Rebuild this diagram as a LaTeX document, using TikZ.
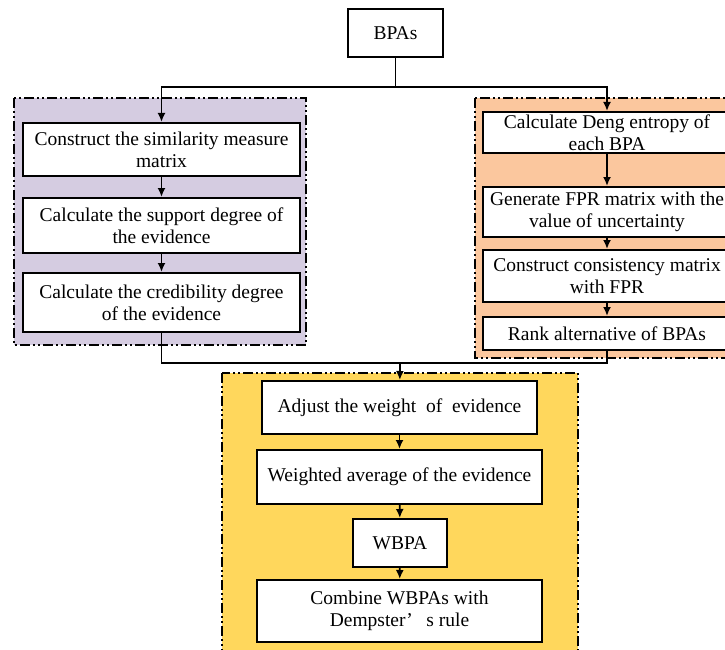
\documentclass[tikz,border=0pt]{standalone}
\usepackage{fontspec}
\setmainfont{Liberation Serif}
\usetikzlibrary{arrows.meta}

\definecolor{grpPurple}{HTML}{D5CCE1}
\definecolor{grpOrange}{HTML}{FBC79E}
\definecolor{grpYellow}{HTML}{FFD75C}

\tikzset{
  stepbox/.style={draw, rectangle, fill=white, line width=2pt, align=center, inner sep=2pt},
  groupbox/.style={draw, line width=2pt, dash pattern=on 10pt off 3pt on 2pt off 3pt on 2pt off 3pt},
  flow/.style={line width=1.8pt, -{Latex[length=9pt,width=8pt]}},
  link/.style={line width=1.8pt}
}

\begin{document}
\begin{tikzpicture}[x=1pt, y=-1pt, font=\fontsize{19.5}{22}\selectfont]
    \useasboundingbox (0,0) rectangle (725,650);
    \clip (0,0) rectangle (725,650);

    % Gruppen im Hintergrund
    \draw[groupbox, fill=grpPurple] (14,98) rectangle (306,345);
    \draw[groupbox, fill=grpOrange] (475,98) rectangle (740,358);
    \draw[groupbox, fill=grpYellow] (222,373) rectangle (578,665);

    % Eingang
    \node[stepbox, minimum width=95pt, minimum height=48pt] (bpa) at (395.5,33) {BPAs};

    % Linker Zweig
    \node[stepbox, minimum width=277pt, minimum height=53pt] (l1) at (161.5,149.5) {Construct the similarity measure\\matrix};
    \node[stepbox, minimum width=277pt, minimum height=55pt] (l2) at (161.5,225.5) {Calculate the support degree of\\the evidence};
    \node[stepbox, minimum width=277pt, minimum height=59pt] (l3) at (161.5,302.5) {Calculate the credibility degree\\of the evidence};

    % Rechter Zweig
    \node[stepbox, minimum width=248pt, minimum height=41pt] (r1) at (607,132.5) {Calculate Deng entropy of\\each BPA};
    \node[stepbox, minimum width=248pt, minimum height=50pt] (r2) at (607,212) {Generate FPR matrix with the\\value of uncertainty};
    \node[stepbox, minimum width=248pt, minimum height=52pt] (r3) at (607,276) {Construct consistency matrix\\with FPR};
    \node[stepbox, minimum width=248pt, minimum height=33pt] (r4) at (607,333.5) {Rank alternative of BPAs};

    % Unterer Teil
    \node[stepbox, minimum width=275pt, minimum height=53pt] (y1) at (399.5,407.5) {Adjust the weight\ \ of\ \ evidence};
    \node[stepbox, minimum width=285pt, minimum height=54pt] (y2) at (399.5,477) {Weighted average of the evidence};
    \node[stepbox, minimum width=94pt, minimum height=48pt] (y3) at (400,543) {WBPA};
    \node[stepbox, minimum width=285pt, minimum height=62pt] (y4) at (399.5,611) {Combine WBPAs with\\Dempster’\hspace{0.7em}s rule};

    % Verzweigung oben
    \coordinate (split) at (395.5,87);
    \draw[link] (bpa) -- (split);
    \draw[flow] (split) -| (l1);
    \draw[flow] (split) -| (r1);

    % Pfeile in den Zweigen
    \draw[flow] (l1) -- (l2);
    \draw[flow] (l2) -- (l3);
    \draw[flow] (r1) -- (r2);
    \draw[flow] (r2) -- (r3);
    \draw[flow] (r3) -- (r4);

    % Zusammenfuehrung
    \coordinate (merge) at (400,363);
    \draw[link] (l3) |- (merge);
    \draw[link] (r4) |- (merge);
    \draw[flow] (merge) -- (y1);

    \draw[flow] (y1) -- (y2);
    \draw[flow] (y2) -- (y3);
    \draw[flow] (y3) -- (y4);
  \end{tikzpicture}
\end{document}
